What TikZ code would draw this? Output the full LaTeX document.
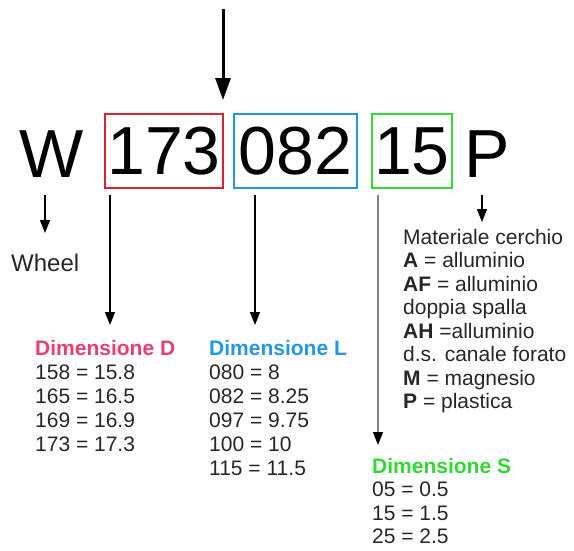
\documentclass[tikz,border=0pt]{standalone}
\usepackage{fontspec}
\setmainfont{Liberation Sans}
\usetikzlibrary{arrows.meta}
\definecolor{dimred}{RGB}{232,64,110}
\definecolor{dimblue}{RGB}{35,150,230}
\definecolor{dimgreen}{RGB}{50,215,50}
\definecolor{boxred}{RGB}{220,35,45}
\definecolor{boxblue}{RGB}{35,150,235}
\definecolor{boxgreen}{RGB}{50,220,50}
\begin{document}
\begin{tikzpicture}[x=1pt,y=-1pt,
    code/.style={font=\fontsize{68}{68}\selectfont, inner sep=0pt},
    codebox/.style={code, draw=#1, line width=2.5pt, minimum height=74pt},
    arr/.style={line width=1.4pt, -{Triangle[length=13pt,width=10pt,color=black]}},
    list/.style={font=\fontsize{21}{24}\selectfont, align=left, inner sep=0pt,
        anchor=north west, text=black!85}]
    \useasboundingbox (0,0) rectangle (574,550);

    % code W 173 082 15 P
    \node[code, anchor=base west] (w) at (19,177) {W};
    \node[codebox=boxred, minimum width=118pt] (d173) at (164,151) {173};
    \node[codebox=boxblue, minimum width=123pt] (l082) at (295.5,151) {082};
    \node[codebox=boxgreen, minimum width=80pt] (s15) at (412,151) {15};
    \node[code, anchor=base west] (p) at (464,177) {P};

    % arrow from the top
    \coordinate (topin) at (223,9);
    \coordinate (toptip) at (223,100);
    \draw[line width=3pt, -{Triangle[length=22pt,width=15pt]}] (topin) -- (toptip);

    % Wheel
    \node[font=\fontsize{24}{24}\selectfont, anchor=base west, inner sep=0pt,
        text=black!85] (wheel) at (11,271) {Wheel};
    \coordinate (win) at (45,195);
    \coordinate (wtip) at (45,233);
    \draw[arr] (win) -- (wtip);

    % Dimensione D
    \node[list] (dimd) at (35,340) {\textbf{\textcolor{dimred}{Dimensione D}}\\
        158 = 15.8\\165 = 16.5\\169 = 16.9\\173 = 17.3};
    \coordinate (din) at (110,195);
    \coordinate (dtip) at (110,325);
    \draw[arr] (din) -- (dtip);

    % Dimensione L
    \node[list] (diml) at (209,340) {\textbf{\textcolor{dimblue}{Dimensione L}}\\
        080 = 8\\082 = 8.25\\097 = 9.75\\100 = 10\\115 = 11.5};
    \coordinate (lin) at (255,195);
    \coordinate (ltip) at (255,325);
    \draw[arr] (lin) -- (ltip);

    % Dimensione S
    \node[list, font=\fontsize{21}{23.5}\selectfont] (dims) at (372,458)
        {\textbf{\textcolor{dimgreen}{Dimensione S}}\\
        05 = 0.5\\15 = 1.5\\25 = 2.5};
    \coordinate (sin) at (378,195);
    \coordinate (stip) at (378,445);
    \draw[arr, draw=black!50] (sin) -- (stip);

    % materiale cerchio
    \node[list, font=\fontsize{21}{23.5}\selectfont] (mat) at (403,229)
        {Materiale cerchio\\\textbf{A} = alluminio\\\textbf{AF} = alluminio\\
        doppia spalla\\\textbf{AH} =alluminio\\d.s. canale forato\\
        \textbf{M} = magnesio\\\textbf{P} = plastica};
    \coordinate (pin) at (482,195);
    \coordinate (ptip) at (482,222);
    \draw[arr] (pin) -- (ptip);
\end{tikzpicture}
\end{document}
